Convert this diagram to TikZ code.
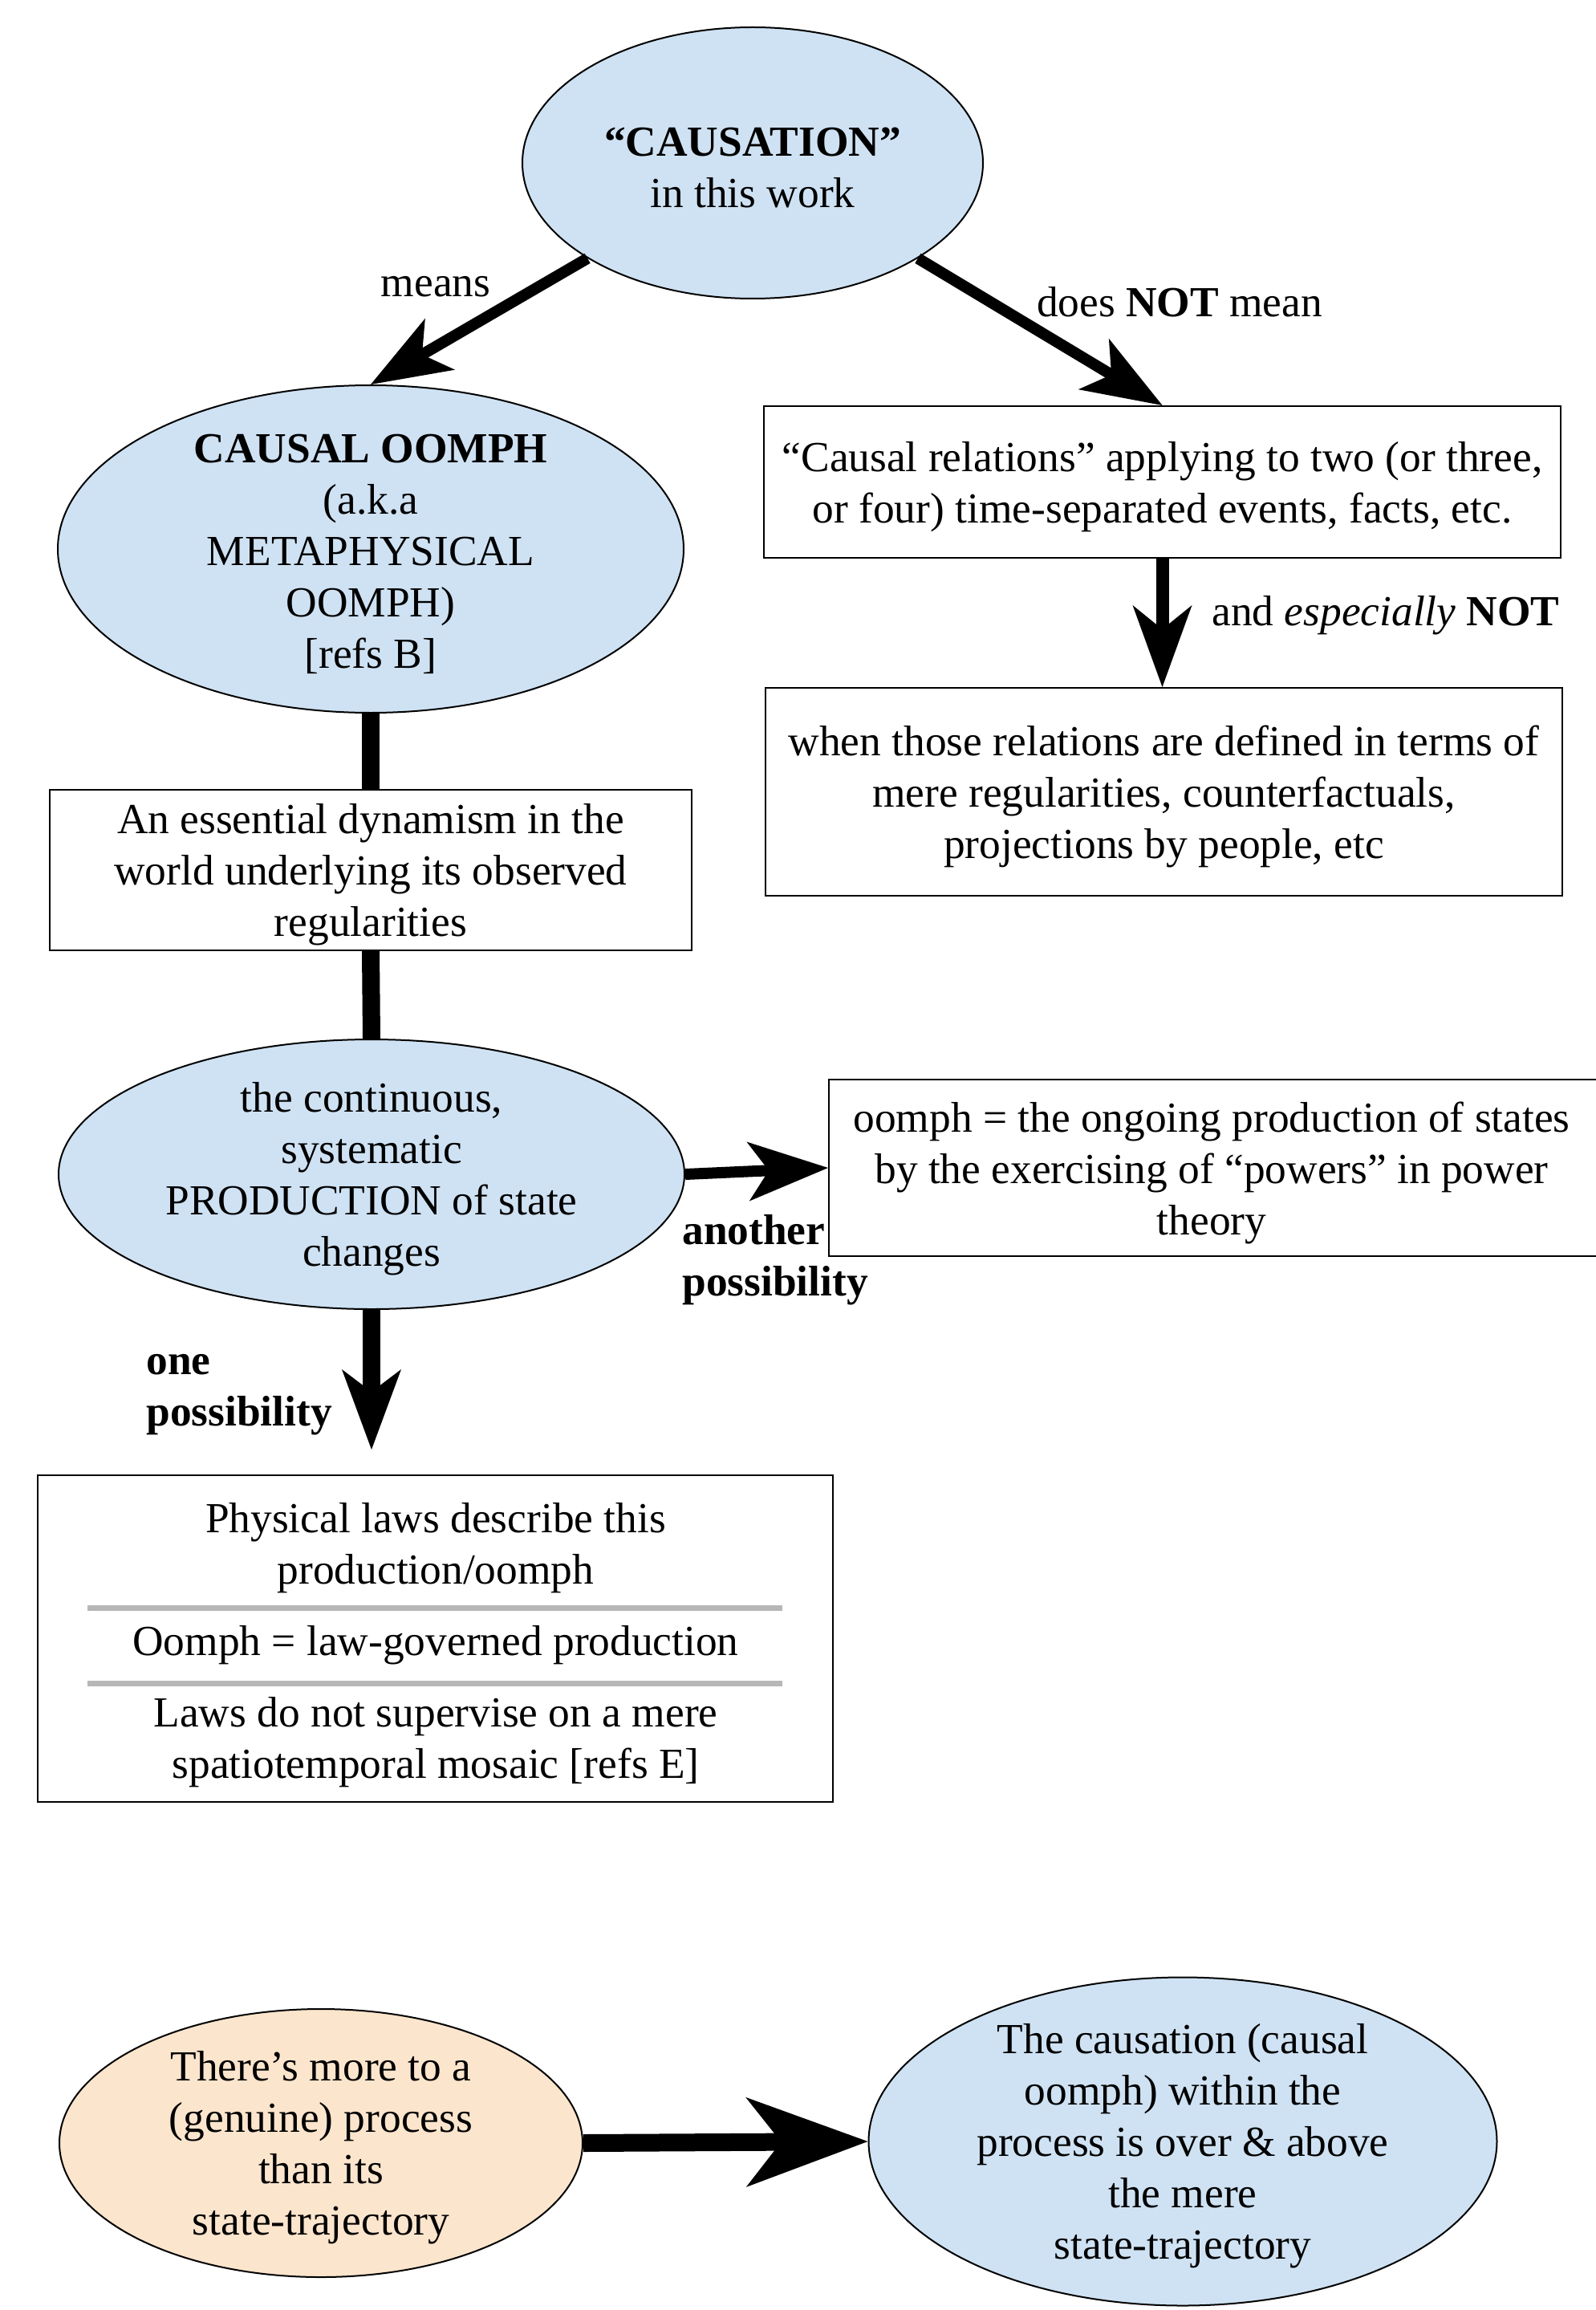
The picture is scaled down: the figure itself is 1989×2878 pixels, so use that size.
\documentclass[tikz,border=0pt]{standalone}
\usepackage{fontspec}
\setmainfont{Liberation Serif}
\usetikzlibrary{arrows.meta,shapes.geometric}
\definecolor{paleblue}{HTML}{CFE2F3}
\definecolor{paleorange}{HTML}{FCE5CD}
\definecolor{rulegray}{HTML}{B7B7B7}
\begin{document}
\begin{tikzpicture}[x=0.5pt,y=-0.5pt,
  every node/.style={font=\fontsize{26.7}{32}\selectfont, align=center, inner sep=0pt},
  bubble/.style={ellipse, draw=black, line width=1pt, fill=paleblue},
  peach/.style={ellipse, draw=black, line width=1pt, fill=paleorange},
  textbox/.style={rectangle, draw=black, line width=1pt, fill=white},
  lowered/.style={yshift=-3pt},
  link/.style={line width=11pt},
  arrowA/.style={line width=7pt, -{Stealth[length=50pt, width=37pt, inset=13pt, line width=0pt]}},
  arrowB/.style={line width=8pt, -{Stealth[length=51pt, width=37pt, inset=15pt, line width=0pt]}},
  arrowC/.style={line width=11pt, -{Stealth[length=50pt, width=37pt, inset=14pt, line width=0pt]}},
  arrowD/.style={line width=11pt, -{Stealth[length=76pt, width=56pt, inset=22pt, line width=0pt]}},
  sep/.style={draw=rulegray, line width=3.5pt},
  tag/.style={font=\fontsize{26.7}{32}\selectfont\bfseries, align=left}
]
\useasboundingbox (0,0) rectangle (1989,2878);
\fill[white] (0,0) rectangle (1989,2878);

% ---- ellipses ----
\node[bubble, minimum width=287pt, minimum height=169pt,
  label={[name=causetxt, lowered]center:{\textbf{“CAUSATION”}\\in this work}}] (cause) at (938,203) {};
\node[bubble, minimum width=390pt, minimum height=204pt,
  label={[name=oomphtxt, lowered]center:{\textbf{CAUSAL OOMPH}\\(a.k.a\\METAPHYSICAL\\OOMPH)\\{[refs B]}}}] (oomph) at (462,684) {};
\node[bubble, minimum width=390pt, minimum height=168pt,
  label={[name=prodtxt, lowered]center:{the continuous,\\systematic\\PRODUCTION of state\\changes}}] (prod) at (463,1463) {};
\node[peach, minimum width=326pt, minimum height=167pt,
  label={[name=moretxt, lowered]center:{There’s more to a\\(genuine) process\\than its\\state-trajectory}}] (more) at (400,2670) {};
\node[bubble, minimum width=391.5pt, minimum height=204.5pt,
  label={[name=overtxt, lowered]center:{The causation (causal\\oomph) within the\\process is over \& above\\the mere\\state-trajectory}}] (over) at (1474,2668) {};

% ---- boxes ----
\node[textbox, minimum width=496.5pt, minimum height=94.5pt,
  label={[name=reltxt, lowered]center:{“Causal relations” applying to two (or three,\\or four) time-separated events, facts, etc.}}] (rel) at (1448.5,600.5) {};
\node[textbox, minimum width=496.5pt, minimum height=129.5pt,
  label={[name=regstxt, lowered]center:{when those relations are defined in terms of\\mere regularities, counterfactuals,\\projections by people, etc}}] (regs) at (1450.5,986.5) {};
\node[textbox, minimum width=400pt, minimum height=100pt,
  label={[name=dyntxt, lowered]center:{An essential dynamism in the\\world underlying its observed\\regularities}}] (dyn) at (462,1084) {};
\node[textbox, minimum width=481pt, minimum height=110pt] (powers) at (1514,1455) {};
\node[lowered] (powerstxt) at (1510,1455)
  {oomph = the ongoing production of states\\by the exercising of “powers” in power\\theory};
\node[textbox, minimum width=495.5pt, minimum height=203.5pt] (laws) at (542.5,2041.5) {};
\node (lawsa) at (543,1929) {Physical laws describe this\\production/oomph};
\node (lawsb) at (543,2050) {Oomph = law-governed production};
\node (lawsc) at (543,2171) {Laws do not supervise on a mere\\spatiotemporal mosaic [refs E]};
\coordinate (sepa1) at (109,2003);
\coordinate (sepa2) at (975,2003);
\coordinate (sepb1) at (109,2097);
\coordinate (sepb2) at (975,2097);
\draw[sep] (sepa1) -- (sepa2);
\draw[sep] (sepb1) -- (sepb2);

% ---- connectors ----
\draw[arrowA] (cause.210) -- (oomph.north);
\draw[arrowA] (cause.-30) -- (rel.north);
\draw[arrowB] (rel.south) -- (rel.south |- regs.north);
\draw[link] (oomph.south) -- (dyn.north);
\draw[link] (dyn.south) -- (prod.north);
\draw[arrowA] (prod.east) -- (powers.west);
\draw[arrowC, shorten >=15.5pt] (prod.south) -- (prod.south |- laws.north);
\draw[arrowD] (more.east) -- (over.west);

% ---- connector labels ----
\node (lblmeans) at (543,357) {means};
\node (lblnot) at (1470,376) {does \textbf{NOT} mean};
\node[anchor=west] (lblesp) at (1510,767) {and \textit{especially} \textbf{NOT}};
\node[tag, anchor=west] (lblanother) at (850,1570) {another\\possibility};
\node[tag, anchor=west] (lblone) at (182,1738) {one\\possibility};
\end{tikzpicture}
\end{document}
